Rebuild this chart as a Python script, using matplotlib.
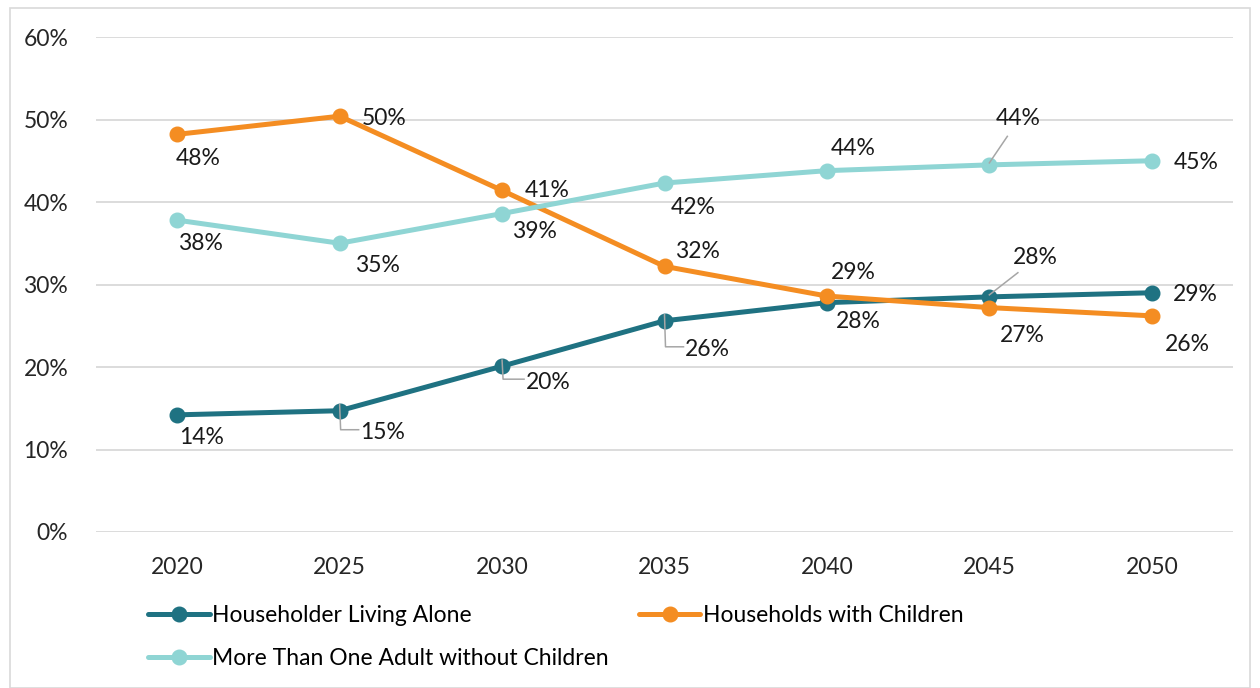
import matplotlib
matplotlib.use("Agg")
import matplotlib.pyplot as plt
from matplotlib.patches import Rectangle
from matplotlib.lines import Line2D

plt.rcParams['font.family'] = ['Lato', 'DejaVu Sans']

years = ["2020", "2025", "2030", "2035", "2040", "2045", "2050"]
alone = [14.2, 14.7, 20.1, 25.6, 27.8, 28.5, 29.0]
children = [48.2, 50.4, 41.4, 32.2, 28.6, 27.2, 26.2]
adults = [37.8, 35.0, 38.6, 42.3, 43.8, 44.5, 45.0]

names = ["Householder Living Alone", "Households with Children",
         "More Than One Adult without Children"]
colors = ["#1f7282", "#f48d22", "#8fd5d4"]

# label offsets in pixels (dx, dy downwards) and leader style
offs_alone = [(24, 23, None), (43, 22, "elbow"), (46, 16, "elbow"), (43, 29, "elbow"),
              (31, 19, None), (46, -39, "line"), (44, 2, None)]
offs_child = [(21, 24, None), (45, 2, None), (45, 0, None), (33, -15, None),
              (26, -24, None), (33, 28, None), (36, 29, None)]
offs_adult = [(23, 23, None), (38, 22, None), (32, 18, None), (29, 24, None),
              (26, -22, None), (29, -46, "line"), (44, 2, None)]

fig = plt.figure(figsize=(12.6, 6.88), dpi=100)
ax = fig.add_axes([96 / 1260, 1 - 532 / 688, (1233 - 96) / 1260, (532 - 37) / 688])
fig.patches.append(Rectangle((10 / 1260, 0), 1240 / 1260, 1 - 8 / 688, transform=fig.transFigure,
                             fill=False, edgecolor="#d9d9d9", linewidth=1.2))

x = list(range(len(years)))
ax.set_xlim(-0.5, len(years) - 0.5)
ax.set_ylim(0, 60)

series = [alone, children, adults]
offsets = [offs_alone, offs_child, offs_adult]
handles = []
for vals, col, name, offs in zip(series, colors, names, offsets):
    h, = ax.plot(x, vals, color=col, lw=3.6, marker="o", markersize=10.5, label=name,
                 solid_capstyle="round", zorder=3)
    handles.append(h)
    for xi, v, (dx, dy, lead) in zip(x, vals, offs):
        ax.annotate(f"{round(v):.0f}%", (xi, v), xytext=(dx * 0.72, -dy * 0.72),
                    textcoords="offset points", ha="center", va="center",
                    fontsize=16.5, color="#1a1a1a", zorder=4)
        if lead is None:
            continue
        px, py = ax.transData.transform((xi, v))
        if lead == "elbow":
            pts = [(0, -6), (1, dy - 3), (dx - 24, dy - 3)]
        else:
            pts = [(0, -2), (dx * 0.62, dy * 0.62)]
        xs = [px + p[0] for p in pts]
        ys = [py - p[1] for p in pts]
        fig.add_artist(Line2D(xs, ys, transform=None, color="#a6a6a6", lw=1.1, zorder=2))

ax.set_yticks(range(0, 61, 10))
ax.set_yticklabels([f"{t}%" for t in range(0, 61, 10)])
ax.set_xticks(x)
ax.set_xticklabels(years)
ax.tick_params(length=0, labelsize=16.5, colors="#262626")
ax.tick_params(axis="y", pad=20)
ax.tick_params(axis="x", pad=18)
ax.grid(axis="y", color="#d9d9d9", lw=1.3)
ax.set_axisbelow(True)
for s in ax.spines.values():
    s.set_visible(False)

# row-wise legend order: alone, children / adults
order = [0, 2, 1]
fig.legend([handles[i] for i in order], [names[i] for i in order],
           loc="upper left", bbox_to_anchor=(148 / 1260, 1 - 605 / 688), ncol=2,
           frameon=False, fontsize=16.5, columnspacing=1.3, handlelength=2.7,
           handletextpad=0.1, labelspacing=0.95, borderaxespad=0, borderpad=0)

fig.savefig("out.png", dpi=100)
